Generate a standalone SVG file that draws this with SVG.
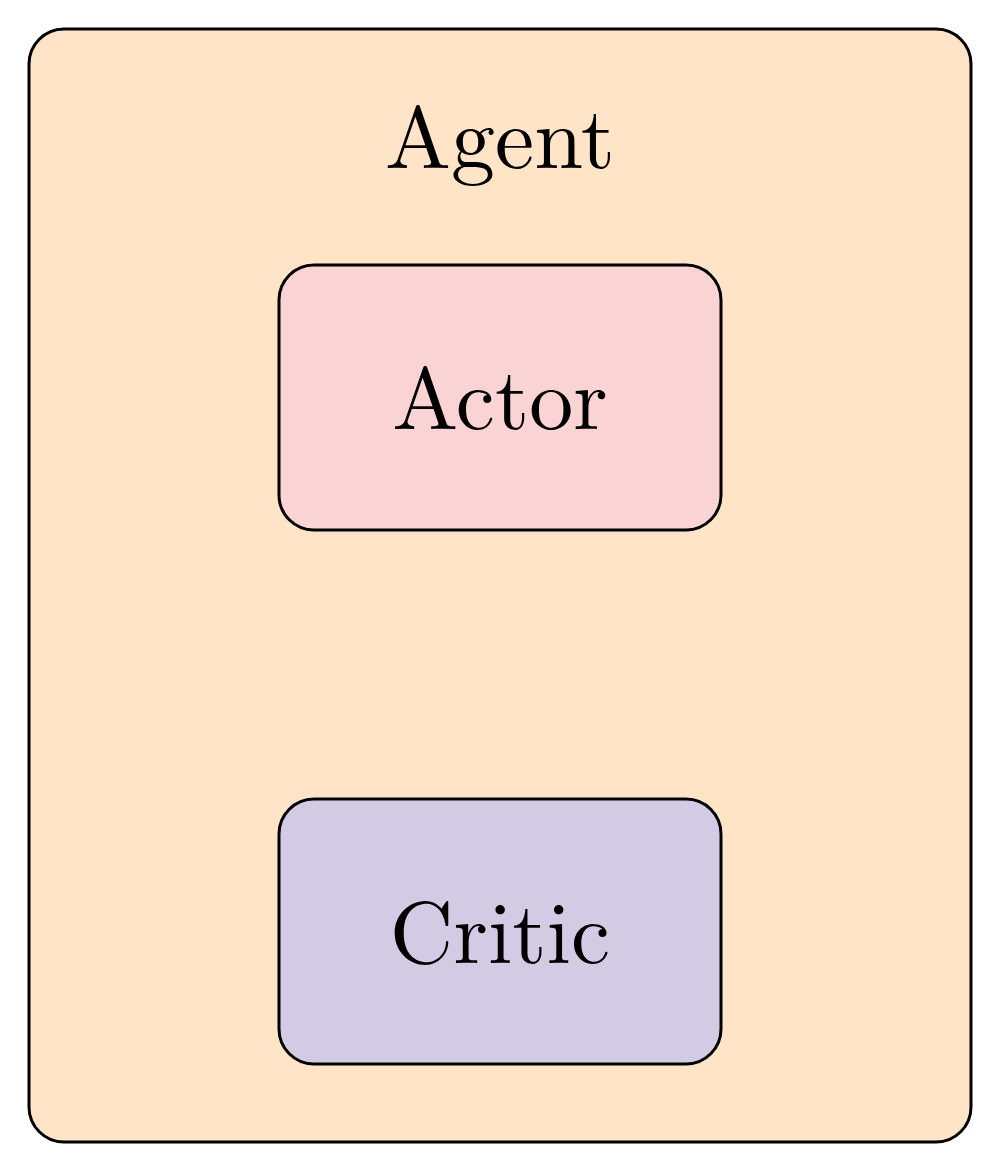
<svg xmlns="http://www.w3.org/2000/svg" width="1000" height="1171" viewBox="0 0 1000 1171">
<style>
.b{stroke:#000;stroke-width:3}
.t{font-family:"Latin Modern Roman","Liberation Serif",serif;fill:#000;text-anchor:middle}
</style>
<rect width="1000" height="1171" fill="#fff"/>
<g id="agent"><rect class="b" x="29" y="29" width="942" height="1113" rx="35" fill="#ffe4c8"/>
<text class="t" x="500" y="168" font-size="88">Agent</text></g>
<g id="actor"><rect class="b" x="279" y="265" width="442" height="265" rx="35" fill="#fad4d4"/>
<text class="t" x="500" y="429" font-size="88">Actor</text></g>
<g id="critic"><rect class="b" x="279" y="799" width="442" height="265" rx="35" fill="#d3cbe3"/>
<text class="t" x="500" y="963" font-size="88">Critic</text></g>
<g id="connectors"/>
</svg>
